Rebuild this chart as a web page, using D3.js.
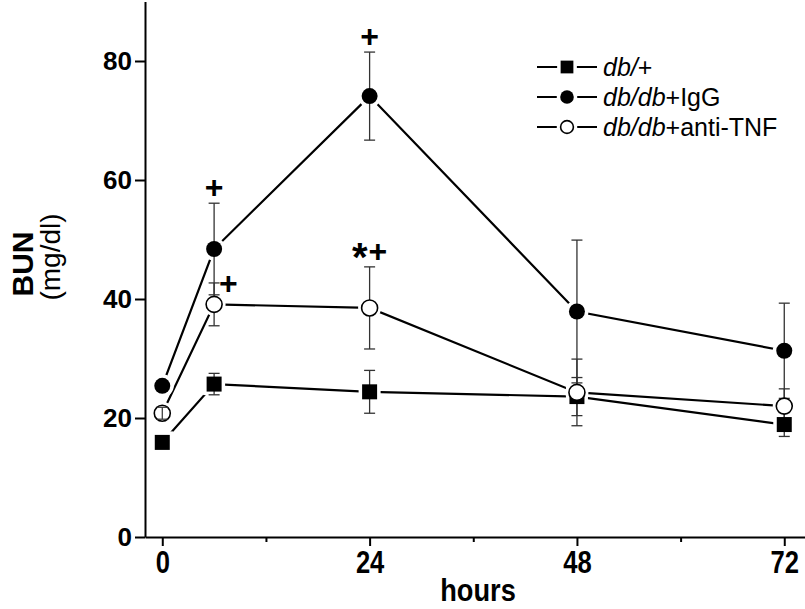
<!DOCTYPE html>
<html><head><meta charset="utf-8">
<script src="https://cdn.jsdelivr.net/npm/d3@7"></script>
<style>body{margin:0;background:#fff}svg{display:block}</style>
</head><body><svg id="c" width="805" height="609"></svg>
<script>
// ---- data ----
const hours = [0, 6, 24, 48, 72];
const seriesNames = ["db/+", "db/db+IgG", "db/db+anti-TNF"];
const dbPlusMean = [15.9, 25.7, 24.4, 23.6, 18.9];
const dbPlusErr  = [0, 1.8, 3.6, 3.2, 2.0];
const igGMean    = [25.4, 48.4, 74.1, 37.9, 31.3];
const igGErr     = [0, 7.7, 7.4, 12.0, 8.0];
const tnfMean    = [20.8, 39.1, 38.5, 24.3, 22.0];
const tnfErr     = [1.0, 3.6, 6.9, 5.6, 2.9];
const xTicks = [0, 24, 48, 72];
const xMinorTicks = [12, 36, 60];
const yTicks = [0, 20, 40, 60, 80];
const annotations = [
  {series: 1, hour: 6,  text: "+",  place: "above"},
  {series: 1, hour: 24, text: "+",  place: "above"},
  {series: 2, hour: 6,  text: "+",  place: "right"},
  {series: 2, hour: 24, text: "*+", place: "above"}
];

const series = [
  {name: seriesNames[0], mean: dbPlusMean, err: dbPlusErr, shape: "square"},
  {name: seriesNames[1], mean: igGMean, err: igGErr, shape: "filled"},
  {name: seriesNames[2], mean: tnfMean, err: tnfErr, shape: "open"}
];

const svg = d3.select("#c");
const x = d3.scaleLinear().domain([-2, 74.4]).range([145, 805]);
const y = d3.scaleLinear().domain([0, 90]).range([537, 1.5]);
const R = 8, SQ = 15, CAP = 5.5;

// axes
const font = "'Liberation Sans', Arial, sans-serif";
const gx = svg.append("g").attr("transform", "translate(0,537)")
  .call(d3.axisBottom(x).tickValues(xTicks).tickSize(9).tickPadding(4).tickSizeOuter(0).tickFormat(d3.format("d")));
gx.select(".domain").attr("stroke", "#000").attr("stroke-width", 2);
gx.selectAll(".tick line").attr("stroke", "#000").attr("stroke-width", 2);
gx.selectAll(".tick text").attr("font-family", font)
  .attr("font-weight", "bold").attr("font-size", 32).attr("fill", "#000")
  .attr("transform", "scale(0.8,1)");
const gxm = svg.append("g").attr("transform", "translate(0,537)")
  .call(d3.axisBottom(x).tickValues(xMinorTicks).tickSize(5).tickFormat(""));
gxm.select(".domain").remove();
gxm.selectAll(".tick line").attr("stroke", "#000").attr("stroke-width", 2);

const gy = svg.append("g").attr("transform", "translate(145,0)")
  .call(d3.axisLeft(y).tickValues(yTicks).tickSize(10).tickPadding(3).tickSizeOuter(0));
gy.select(".domain").attr("stroke", "#000").attr("stroke-width", 2);
gy.selectAll(".tick line").attr("stroke", "#000").attr("stroke-width", 2);
gy.selectAll(".tick text").attr("font-family", font)
  .attr("font-weight", "bold").attr("font-size", 26).attr("fill", "#000");

svg.append("text").attr("transform", "translate(478,601) scale(0.85,1)").attr("text-anchor", "middle")
  .attr("font-family", font).attr("font-weight", "bold")
  .attr("font-size", 32).text("hours");
svg.append("text").attr("transform", "translate(33,264) rotate(-90)").attr("text-anchor", "middle")
  .attr("font-family", font).attr("font-weight", "bold").attr("font-size", 30).text("BUN");
svg.append("text").attr("transform", "translate(60,257) rotate(-90)").attr("text-anchor", "middle")
  .attr("font-family", font).attr("font-size", 28).text("(mg/dl)");

// lines
const line = d3.line().x((d, i) => x(hours[i])).y(d => y(d));
series.forEach(s => {
  svg.append("path").attr("d", line(s.mean)).attr("fill", "none")
    .attr("stroke", "#000").attr("stroke-width", 2.2);
});

function marker(g, shape, cx, cy, halo, scale) {
  const r = R * scale, sq = SQ * scale;
  let el;
  if (shape === "square") {
    el = g.append("rect").attr("x", cx - sq / 2).attr("y", cy - sq / 2).attr("width", sq).attr("height", sq);
  } else {
    el = g.append("circle").attr("cx", cx).attr("cy", cy).attr("r", r);
  }
  if (halo) {
    el.attr("fill", "#fff").attr("stroke", "#fff").attr("stroke-width", 7);
  } else if (shape === "open") {
    el.attr("fill", "#fff").attr("stroke", "#000").attr("stroke-width", 1.6);
  } else {
    el.attr("fill", "#000");
  }
}

// halos
series.forEach(s => s.mean.forEach((m, i) => marker(svg, s.shape, x(hours[i]), y(m), true, 1)));
// error bars
series.forEach(s => s.mean.forEach((m, i) => {
  const e = s.err[i];
  if (!e) return;
  const cx = x(hours[i]);
  const g = svg.append("g").attr("stroke", "#333").attr("stroke-width", 1.3);
  g.append("line").attr("x1", cx).attr("x2", cx).attr("y1", y(m + e)).attr("y2", y(m - e));
  [m + e, m - e].forEach(v => g.append("line").attr("x1", cx - CAP).attr("x2", cx + CAP).attr("y1", y(v)).attr("y2", y(v)));
}));
// markers
series.forEach(s => s.mean.forEach((m, i) => {
  const cx = x(hours[i]), cy = y(m);
  marker(svg, s.shape, cx, cy, false, 1);
  const e = s.err[i];
  if (s.shape === "open" && e && (y(m - e) - cy) < R) {
    const g = svg.append("g").attr("stroke", "#333").attr("stroke-width", 1.2);
    g.append("line").attr("x1", cx).attr("x2", cx).attr("y1", y(m + e)).attr("y2", y(m - e));
    [m + e, m - e].forEach(v => g.append("line").attr("x1", cx - CAP).attr("x2", cx + CAP).attr("y1", y(v)).attr("y2", y(v)));
  }
}));

// annotations
annotations.forEach(a => {
  const s = series[a.series], i = hours.indexOf(a.hour);
  const top = y(s.mean[i] + s.err[i]);
  const t = svg.append("text").attr("font-family", font).attr("font-weight", "bold")
    .attr("font-size", 32).attr("text-anchor", a.place === "right" ? "start" : "middle");
  if (a.place === "right") {
    t.attr("x", x(a.hour) + 5).attr("y", top + 11);
  } else {
    t.attr("x", x(a.hour)).attr("y", top - 5);
  }
  if (a.text === "*+") {
    t.append("tspan").attr("dy", 9).attr("font-size", 40).text("*");
    t.append("tspan").attr("dy", -9).attr("dx", 1).text("+");
  } else {
    t.text(a.text);
  }
});

// legend
const legY = [67, 97, 127];
series.forEach((s, k) => {
  const g = svg.append("g").attr("transform", `translate(0,${legY[k]})`);
  g.append("line").attr("x1", 537).attr("x2", 597).attr("y1", 0).attr("y2", 0)
    .attr("stroke", "#000").attr("stroke-width", 2);
  marker(g, s.shape, 567, 0, true, 0.85);
  marker(g, s.shape, 567, 0, false, s.shape === "open" ? 0.8 : 0.85);
  const parts = s.name.match(/^(db\/(?:db)?)(.*)$/);
  const t = g.append("text").attr("x", 603).attr("y", 9).attr("font-family", font).attr("font-size", 25);
  t.append("tspan").attr("font-style", "italic").text(parts[1]);
  t.append("tspan").text(parts[2]);
});
</script>
</body></html>
